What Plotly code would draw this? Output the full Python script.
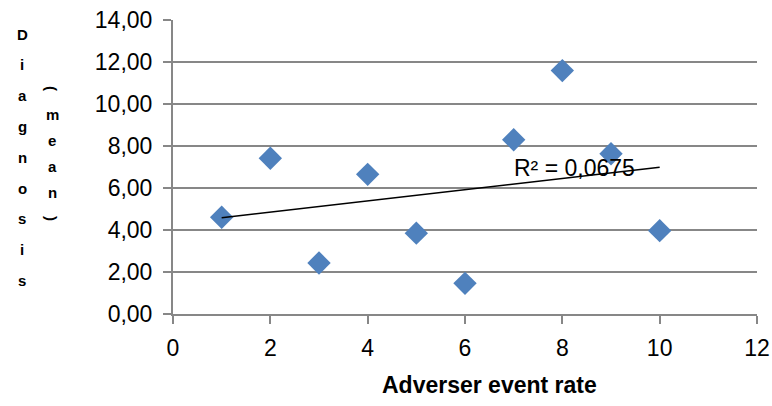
import numpy as np
import plotly.graph_objects as go

x_vals = [1, 2, 3, 4, 5, 6, 7, 8, 9, 10]
y_vals = [4.61, 7.42, 2.43, 6.65, 3.85, 1.46, 8.30, 11.59, 7.63, 3.97]
x_title = "Adverser event rate"
y_title_1 = "Diagnosis"
y_title_2 = "(mean)"
r2_label = "R² = 0,0675"

FONT = "Liberation Sans, Arial"
GRID = "#878787"

slope, intercept = np.polyfit(x_vals, y_vals, 1)
tx = [min(x_vals), max(x_vals)]
ty = [slope * v + intercept for v in tx]

fig = go.Figure()
fig.add_trace(go.Scatter(
    x=x_vals, y=y_vals, mode="markers",
    marker=dict(symbol="diamond", size=18, color="#4F81BD",
                line=dict(width=0)),
    showlegend=False))
fig.add_trace(go.Scatter(
    x=tx, y=ty, mode="lines", line=dict(color="black", width=1.5),
    showlegend=False))

annotations = [dict(x=8.25, y=6.93, xref="x", yref="y", text=r2_label,
                    showarrow=False, font=dict(family=FONT, size=23, color="black"))]

W, H = 772, 406
L, R, T, B = 173, 14.5, 20, 92
pw, ph = W - L - R, H - T - B

# x-axis title placed as annotation (offset to the right like the reference)
annotations.append(dict(x=(490 - L) / pw, y=1 - (385 - T) / ph, xref="paper", yref="paper",
                        xanchor="center", yanchor="middle", showarrow=False,
                        text="<b>" + x_title + "</b>",
                        font=dict(family=FONT, size=23, color="black")))

letters = []
for i, ch in enumerate(y_title_1):
    letters.append((22, 34 + i * 30.8, ch, 0))
for i, ch in enumerate(y_title_2):
    letters.append((52, 88 + i * 26, ch, 90 if ch in "()" else 0))
for px, py, ch, ang in letters:
    annotations.append(dict(x=(px - L) / pw, y=1 - (py - T) / ph,
                            xref="paper", yref="paper", xanchor="center", yanchor="middle",
                            text="<b>" + ch + "</b>", showarrow=False, textangle=ang,
                            font=dict(family=FONT, size=15, color="black")))

fig.update_layout(
    width=W, height=H,
    margin=dict(l=L, r=R, t=T, b=B),
    plot_bgcolor="white", paper_bgcolor="white",
    separators=", ",
    font=dict(family=FONT, size=23, color="black"),
    annotations=annotations,
    xaxis=dict(range=[0, 12], dtick=2, tick0=0, showgrid=False,
               showline=True, linecolor=GRID, linewidth=2,
               ticks="outside", ticklen=8, tickcolor=GRID, tickwidth=2,
               zeroline=False, ticklabelstandoff=4, automargin=False),
    yaxis=dict(range=[0, 14], dtick=2, tick0=0, tickformat=".2f",
               showgrid=True, gridcolor=GRID, gridwidth=2,
               showline=True, linecolor=GRID, linewidth=2,
               ticks="outside", ticklen=8, tickcolor=GRID, tickwidth=2,
               zeroline=False, ticklabelstandoff=6, automargin=False),
)

fig.write_html("out.html")
